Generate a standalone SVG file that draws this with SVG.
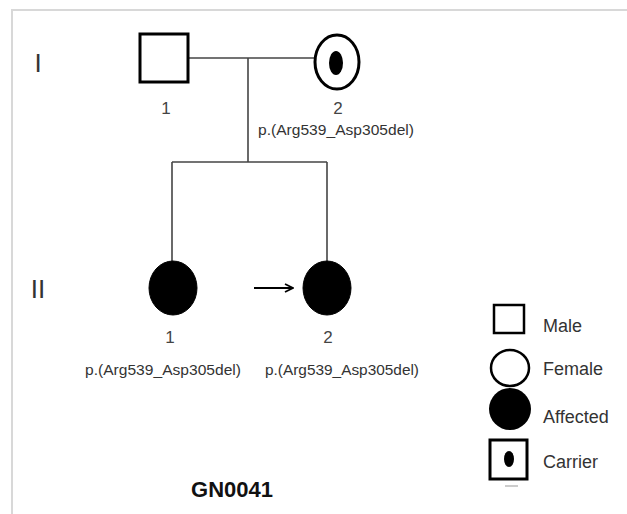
<svg xmlns="http://www.w3.org/2000/svg" width="627" height="514" viewBox="0 0 627 514">
  <style>
    .frame { stroke: #d8d8d8; stroke-width: 2; fill: none; }
    .sym { fill: #fff; stroke: #000; stroke-width: 3; }
    .aff { fill: #000; stroke: #000; stroke-width: 1; }
    .dot { fill: #000; }
    .line { stroke: #444; stroke-width: 1.6; fill: none; }
    .gen { font-family: "Liberation Sans", Arial, sans-serif; font-size: 26px; fill: #333; }
    .num { font-family: "Liberation Sans", Arial, sans-serif; font-size: 17px; fill: #444; text-anchor: middle; }
    .mut { font-family: "Liberation Sans", Arial, sans-serif; font-size: 15px; fill: #333; text-anchor: middle; }
    .leg { font-family: "Liberation Sans", Arial, sans-serif; font-size: 18px; fill: #333; }
    .title { font-family: "Liberation Sans", Arial, sans-serif; font-size: 22px; font-weight: bold; fill: #111; text-anchor: middle; }
  </style>
  <defs>
    <marker id="arrowhead" viewBox="0 0 10 10" refX="9" refY="5" markerWidth="10" markerHeight="10" markerUnits="userSpaceOnUse" orient="auto">
      <path d="M1,1 L9,5 L1,9" fill="none" stroke="#000" stroke-width="1.8"/>
    </marker>
  </defs>

  <rect width="627" height="514" fill="#fff"/>
  <!-- frame -->
  <path class="frame" d="M12,514 L12,10 L627,10"/>

  <!-- generation labels -->
  <text class="gen" x="38" y="72" text-anchor="middle">I</text>
  <text class="gen" x="38" y="298" text-anchor="middle">II</text>

  <!-- connectors -->
  <g id="connectors">
    <path class="line" d="M188,58 L315,58"/>
    <path class="line" d="M248,58 L248,162"/>
    <path class="line" d="M172,162 L327,162"/>
    <path class="line" d="M172,162 L172,262"/>
    <path class="line" d="M327,162 L327,262"/>
    <path d="M254,288 L293,288" stroke="#000" stroke-width="2" fill="none" marker-end="url(#arrowhead)"/>
  </g>

  <!-- generation I -->
  <g id="I-1">
    <rect class="sym" x="140" y="34" width="48" height="48"/>
    <text class="num" x="166" y="114">1</text>
  </g>
  <g id="I-2">
    <ellipse class="sym" cx="337" cy="62" rx="22" ry="27"/>
    <ellipse class="dot" cx="336" cy="63" rx="7" ry="12"/>
    <text class="num" x="338" y="114">2</text>
    <text class="mut" x="336" y="135" textLength="156" lengthAdjust="spacingAndGlyphs">p.(Arg539_Asp305del)</text>
  </g>

  <!-- generation II -->
  <g id="II-1">
    <ellipse class="aff" cx="173" cy="288" rx="24" ry="27"/>
    <text class="num" x="170" y="343">1</text>
    <text class="mut" x="163" y="375" textLength="156" lengthAdjust="spacingAndGlyphs">p.(Arg539_Asp305del)</text>
  </g>
  <g id="II-2">
    <ellipse class="aff" cx="327" cy="288" rx="24" ry="27"/>
    <text class="num" x="328" y="343">2</text>
    <text class="mut" x="342" y="375" textLength="154" lengthAdjust="spacingAndGlyphs">p.(Arg539_Asp305del)</text>
  </g>

  <!-- legend -->
  <g id="legend">
    <rect x="494" y="305" width="30" height="28" fill="#fff" stroke="#000" stroke-width="2.5"/>
    <text class="leg" x="543" y="332">Male</text>
    <ellipse cx="510" cy="368" rx="19" ry="18" fill="#fff" stroke="#000" stroke-width="2.5"/>
    <text class="leg" x="543" y="375">Female</text>
    <ellipse cx="510" cy="409" rx="21" ry="21" fill="#000"/>
    <text class="leg" x="543" y="423">Affected</text>
    <rect x="490" y="440" width="37" height="39" fill="#fff" stroke="#000" stroke-width="3"/>
    <ellipse cx="509" cy="459" rx="5" ry="8" fill="#000"/>
    <text class="leg" x="543" y="468">Carrier</text>
    <path d="M505,486 L518,486" stroke="#ccc" stroke-width="2"/>
  </g>

  <text class="title" x="232" y="497">GN0041</text>
</svg>
